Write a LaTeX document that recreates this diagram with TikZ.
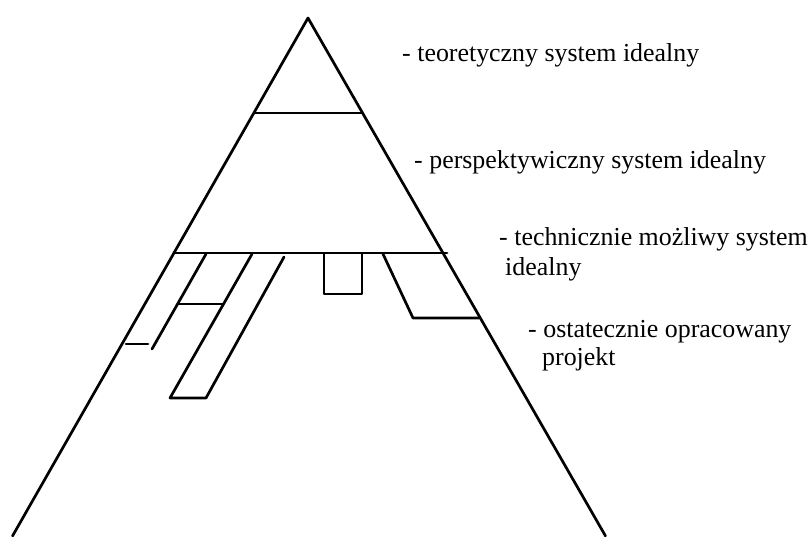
\documentclass[tikz,border=0pt]{standalone}
\usepackage{fontspec}
\setmainfont{Liberation Serif}
\begin{document}
\begin{tikzpicture}[x=1pt,y=-1pt,
  pline/.style={line width=2.7pt, line cap=round, line join=round},
  tierlabel/.style={anchor=base west, inner sep=0pt,
    font=\fontsize{25.9}{30}\selectfont}]
\useasboundingbox (0,0) rectangle (811,536);

% outline of the pyramid (open at the bottom)
\coordinate (apex) at (308,18);
\coordinate (bl) at (12.5,536);
\coordinate (br) at (605.5,536);
\draw[pline] (bl) -- (apex) -- (br);

% tier boundaries
\draw[pline] (254.5,113) -- (362,113);
\draw[pline] (174,253) -- (447,253);

% left strip with its short tick
\draw[pline] (206,254) -- (152,349);
\draw[pline] (126,344) -- (148,344);
% crossbar between the strips
\draw[pline] (178,304) -- (223,304);
% long slanted strip
\draw[pline] (252,254) -- (170,398) -- (206,398) -- (284,257);
% small block under the base line
\draw[pline] (324,254) -- (324,294) -- (362,294) -- (362,254);
% right-hand block
\draw[pline] (383,254) -- (413,318) -- (479,318);

% tier labels
\node[tierlabel] (t1) at (402,61) {- teoretyczny system idealny};
\node[tierlabel] (t2) at (414,168) {- perspektywiczny system idealny};
\node[tierlabel] (t3a) at (499,245) {- technicznie możliwy system};
\node[tierlabel] (t3b) at (505,275) {idealny};
\node[tierlabel] (t4a) at (528,337) {- ostatecznie opracowany};
\node[tierlabel] (t4b) at (542,365) {projekt};
\end{tikzpicture}
\end{document}
